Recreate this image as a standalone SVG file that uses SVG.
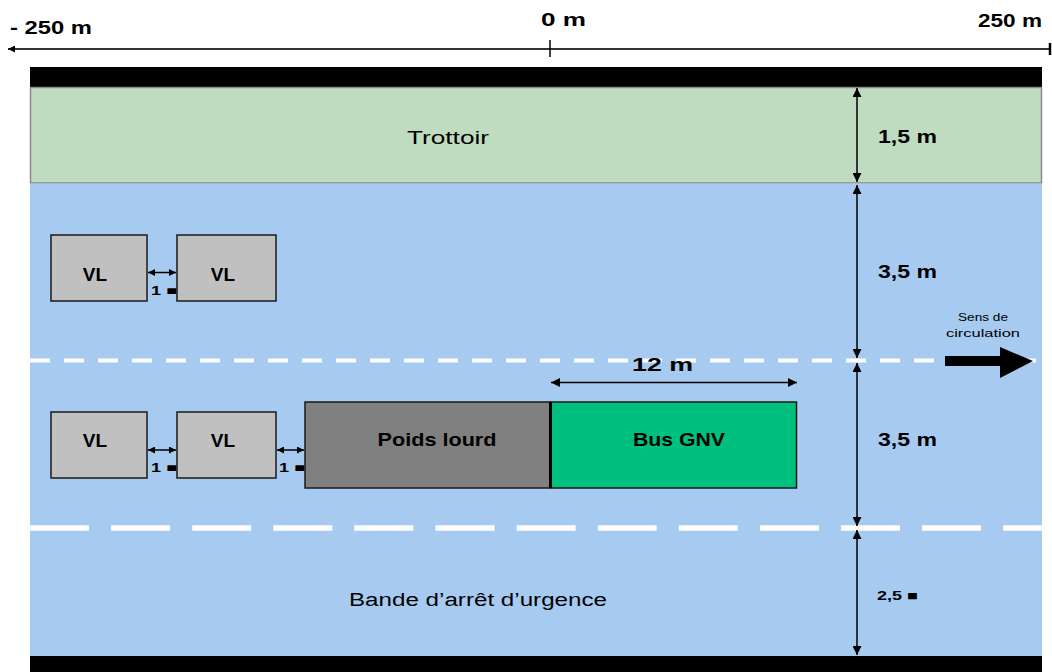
<svg xmlns="http://www.w3.org/2000/svg" width="1052" height="672" viewBox="0 0 1052 672">
<style>
.lbl{font-family:"Liberation Sans","DejaVu Sans",sans-serif;font-weight:bold;fill:#000}
.reg{font-family:"Liberation Sans","DejaVu Sans",sans-serif;fill:#000}
.box{stroke:#1a1a1a;stroke-width:1.5}
.dim{stroke:#000;stroke-width:1.5;fill:none}
</style>
<defs>
<marker id="ah" viewBox="0 0 10 10" refX="10" refY="5" markerWidth="11" markerHeight="9" markerUnits="userSpaceOnUse" orient="auto-start-reverse">
<path d="M0,0 L10,5 L0,10 z" fill="#000"/>
</marker>
<marker id="ahs" viewBox="0 0 10 10" refX="10" refY="5" markerWidth="7" markerHeight="7" markerUnits="userSpaceOnUse" orient="auto-start-reverse">
<path d="M0,0 L10,5 L0,10 z" fill="#000"/>
</marker>
</defs>

<!-- background bands -->
<g id="road">
<rect x="30" y="67" width="1012" height="20" fill="#000"/>
<rect x="30.5" y="87.5" width="1011" height="95.5" fill="#c0dcc0" stroke="#8a8a8a" stroke-width="1.5"/>
<rect x="30" y="183.5" width="1012" height="472.5" fill="#a6caf0"/>
<rect x="30" y="656" width="1012" height="16" fill="#000"/>
<line x1="30" y1="360.5" x2="1042" y2="360.5" stroke="#fff" stroke-width="4" stroke-dasharray="20 14"/>
<line x1="30" y1="528" x2="1042" y2="528" stroke="#fff" stroke-width="5.5" stroke-dasharray="59 22.1"/>
</g>

<!-- scale -->
<g id="scale">
<line x1="8" y1="49" x2="1050" y2="49" stroke="#333" stroke-width="2" marker-start="url(#ahs)"/>
<line x1="550" y1="40" x2="550" y2="57" stroke="#000" stroke-width="1.5"/>
<line x1="1050" y1="43" x2="1050" y2="55" stroke="#000" stroke-width="2.5"/>
<text class="lbl" x="10" y="34" font-size="18" textLength="82" lengthAdjust="spacingAndGlyphs">- 250 m</text>
<text class="lbl" x="541" y="26" font-size="18" textLength="45" lengthAdjust="spacingAndGlyphs">0 m</text>
<text class="lbl" x="978" y="27" font-size="18" textLength="64" lengthAdjust="spacingAndGlyphs">250 m</text>
</g>

<text class="reg" x="407" y="144" font-size="19" textLength="82" lengthAdjust="spacingAndGlyphs">Trottoir</text>
<text class="reg" x="478" y="606" font-size="18" text-anchor="middle" textLength="258" lengthAdjust="spacingAndGlyphs">Bande d’arrêt d’urgence</text>

<!-- nodes -->
<g id="vl1">
<rect class="box" x="51" y="235" width="96" height="66" fill="#c0c0c0"/>
<text class="lbl" x="95" y="281" font-size="19" text-anchor="middle">VL</text>
</g>
<g id="vl2">
<rect class="box" x="177" y="235" width="99" height="66" fill="#c0c0c0"/>
<text class="lbl" x="223" y="281" font-size="19" text-anchor="middle">VL</text>
</g>
<g id="vl3">
<rect class="box" x="51" y="412" width="96" height="66" fill="#c0c0c0"/>
<text class="lbl" x="95" y="447" font-size="19" text-anchor="middle">VL</text>
</g>
<g id="vl4">
<rect class="box" x="177" y="412" width="99" height="66" fill="#c0c0c0"/>
<text class="lbl" x="223" y="447" font-size="19" text-anchor="middle">VL</text>
</g>
<g id="poids-lourd">
<rect class="box" x="305" y="402" width="245" height="86" fill="#808080"/>
<text class="lbl" x="437" y="446" font-size="19" text-anchor="middle" textLength="119" lengthAdjust="spacingAndGlyphs">Poids lourd</text>
</g>
<g id="bus-gnv">
<rect class="box" x="550.5" y="402" width="246" height="86" fill="#00c080"/>
<line x1="550.5" y1="402" x2="550.5" y2="488" stroke="#000" stroke-width="3"/>
<text class="lbl" x="679" y="446" font-size="19" text-anchor="middle" textLength="92" lengthAdjust="spacingAndGlyphs">Bus GNV</text>
</g>
<g id="sens">
<path d="M945,356 L1000,356 L1000,347 L1033,361 L1000,378 L1000,366 L945,366 z" fill="#000"/>
<text class="reg" x="983" y="321" font-size="10" text-anchor="middle" textLength="50" lengthAdjust="spacingAndGlyphs">Sens de</text>
<text class="reg" x="983" y="337" font-size="10" text-anchor="middle" textLength="74" lengthAdjust="spacingAndGlyphs">circulation</text>
</g>

<!-- connectors -->
<g id="connectors">
<line class="dim" x1="148" y1="272.5" x2="176" y2="272.5" marker-start="url(#ahs)" marker-end="url(#ahs)"/>
<line class="dim" x1="148" y1="450" x2="176" y2="450" marker-start="url(#ahs)" marker-end="url(#ahs)"/>
<line class="dim" x1="277" y1="450" x2="304" y2="450" marker-start="url(#ahs)" marker-end="url(#ahs)"/>
<line class="dim" x1="551" y1="382.5" x2="797" y2="382.5" marker-start="url(#ah)" marker-end="url(#ah)"/>
<line class="dim" x1="857" y1="88" x2="857" y2="182" marker-start="url(#ah)" marker-end="url(#ah)"/>
<line class="dim" x1="857" y1="185" x2="857" y2="358" marker-start="url(#ah)" marker-end="url(#ah)"/>
<line class="dim" x1="857" y1="363" x2="857" y2="526" marker-start="url(#ah)" marker-end="url(#ah)"/>
<line class="dim" x1="857" y1="530" x2="857" y2="655" marker-start="url(#ah)" marker-end="url(#ah)"/>
</g>

<!-- dimension labels -->
<g id="dim-labels">
<text class="lbl" x="151" y="295" font-size="12" textLength="26" lengthAdjust="spacingAndGlyphs">1 ■</text>
<text class="lbl" x="151" y="472" font-size="12" textLength="26" lengthAdjust="spacingAndGlyphs">1 ■</text>
<text class="lbl" x="279" y="472" font-size="12" textLength="26" lengthAdjust="spacingAndGlyphs">1 ■</text>
<text class="lbl" x="632" y="371" font-size="18" textLength="61" lengthAdjust="spacingAndGlyphs">12 m</text>
<text class="lbl" x="878" y="143" font-size="18" textLength="59" lengthAdjust="spacingAndGlyphs">1,5 m</text>
<text class="lbl" x="878" y="278" font-size="18" textLength="59" lengthAdjust="spacingAndGlyphs">3,5 m</text>
<text class="lbl" x="878" y="446" font-size="18" textLength="59" lengthAdjust="spacingAndGlyphs">3,5 m</text>
<text class="lbl" x="877" y="600" font-size="13" textLength="41" lengthAdjust="spacingAndGlyphs">2,5 ■</text>
</g>
</svg>
